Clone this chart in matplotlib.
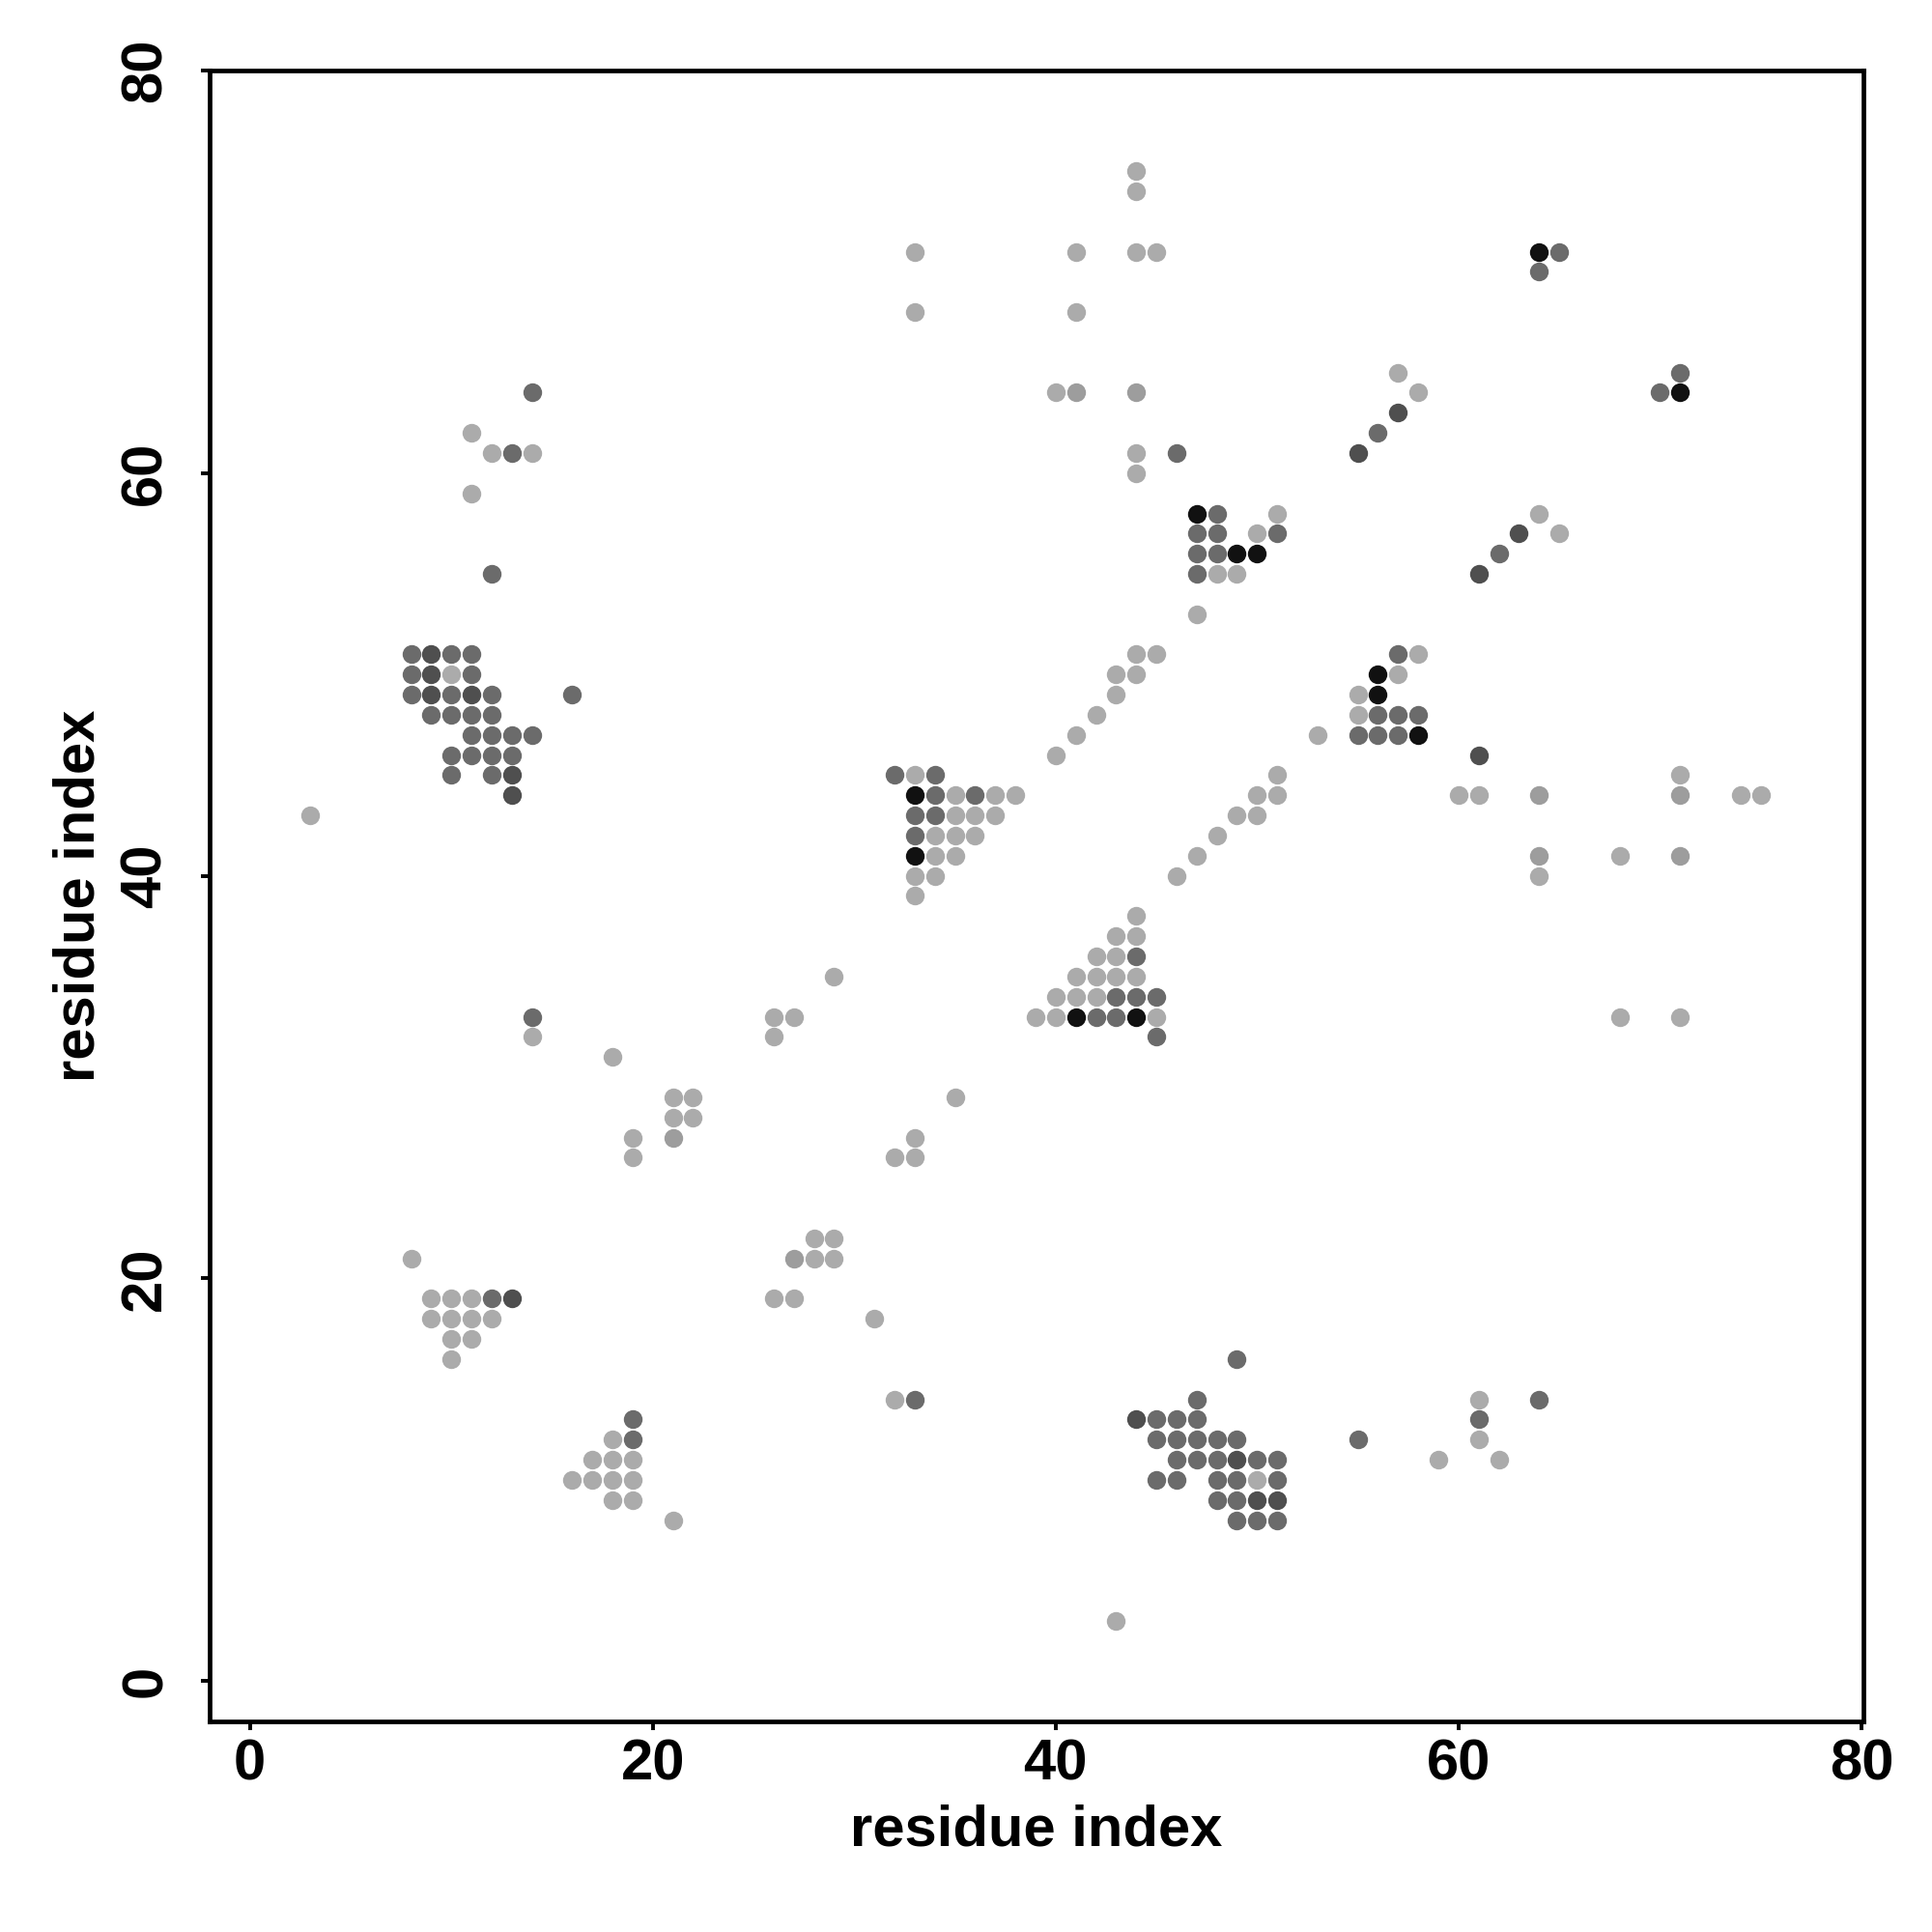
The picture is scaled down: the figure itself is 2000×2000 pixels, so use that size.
import matplotlib
matplotlib.use('Agg')
import matplotlib.pyplot as plt

# contact map points, grouped by grey level
light_x = [11, 12, 14, 11, 10, 3, 14, 18, 21, 22, 21, 22, 19, 19, 26, 27, 26, 29, 35,
           33, 32, 33, 28, 29, 28, 29, 26, 27, 31, 8, 9, 10, 11, 9, 10, 11, 12, 10, 11, 10,
           32, 18, 17, 18, 19, 16, 17, 18, 19, 18, 19, 21, 43,
           33, 35, 37, 38, 35, 36, 37, 34, 35, 36, 34, 35, 33, 34, 33,
           40, 41, 42, 43, 43, 44, 44, 45,
           33, 33, 41, 41, 44, 44, 44, 45, 40, 44, 44,
           51, 50, 48, 49, 47,
           46, 47, 48, 49, 50, 50, 51, 51, 53,
           44, 43, 44, 42, 43, 41, 42, 43, 44, 40, 41, 42, 39, 40, 45,
           58, 57, 55, 55,
           57, 58, 64, 65,
           60, 61, 71, 74, 75, 64, 68, 68, 71,
           50, 59, 61, 61, 62]
light_y = [62, 61, 61, 59, 50, 43, 32, 31, 29, 29, 28, 28, 27, 26, 33, 33, 32, 35, 29,
           27, 26, 26, 22, 22, 21, 21, 19, 19, 18, 21, 19, 19, 19, 18, 18, 18, 18, 17, 17, 16,
           14, 12, 11, 11, 11, 10, 10, 10, 10, 9, 9, 8, 3,
           45, 44, 44, 44, 43, 43, 43, 42, 42, 42, 41, 41, 40, 40, 39,
           46, 47, 48, 49, 50, 50, 51, 51,
           71, 68, 71, 68, 75, 74, 71, 71, 64, 61, 60,
           58, 57, 55, 55, 53,
           40, 41, 42, 43, 43, 44, 44, 45, 47,
           38, 37, 37, 36, 36, 35, 35, 35, 35, 34, 34, 34, 33, 33, 33,
           51, 50, 49, 48,
           65, 64, 58, 57,
           44, 44, 45, 44, 44, 40, 41, 33, 33,
           10, 11, 14, 12, 11]

light2_x = [41, 44, 64, 71, 64, 71, 21, 27]
light2_y = [64, 64, 44, 44, 41, 41, 27, 21]

mid_x = [14, 13, 12,
         8, 10, 11, 8, 11, 8, 10, 12, 16, 9, 10, 11, 12, 11, 12, 13, 14, 10, 11, 12, 13, 10, 12,
         14, 12, 33, 19, 19,
         32, 34, 34, 36, 33, 34, 33,
         46,
         48, 47, 48, 51, 47, 48, 47,
         44, 43, 44, 45, 42, 43, 45,
         57, 56, 57, 58, 55, 56, 57,
         56, 62, 65, 64, 70, 71,
         49, 47, 45, 46, 47, 45, 46, 47, 48, 49, 46, 47, 48, 50, 51,
         45, 46, 48, 49, 51, 48, 49, 49, 50, 51,
         55, 61, 64]
mid_y = [64, 61, 55,
         51, 51, 51, 50, 50, 49, 49, 49, 49, 48, 48, 48, 48, 47, 47, 47, 47, 46, 46, 46, 46, 45, 45,
         33, 19, 14, 13, 12,
         45, 45, 44, 44, 43, 43, 42,
         61,
         58, 57, 57, 57, 56, 56, 55,
         36, 34, 34, 34, 33, 33, 32,
         51, 48, 48, 48, 47, 47, 47,
         62, 56, 71, 70, 64, 65,
         16, 14, 13, 13, 13, 12, 12, 12, 12, 12, 11, 11, 11, 11, 11,
         10, 10, 10, 10, 10, 9, 9, 8, 8, 8,
         12, 13, 14]

dark_x = [9, 9, 9, 11, 13, 13, 13, 55, 57, 63, 61, 44, 49, 50, 51, 61]
dark_y = [51, 50, 49, 49, 45, 44, 19, 61, 63, 57, 55, 13, 11, 9, 9, 46]

black_x = [33, 33, 47, 49, 50, 41, 44, 56, 56, 58, 64, 71]
black_y = [44, 41, 58, 56, 56, 33, 33, 50, 49, 47, 71, 64]

plt.rcParams['font.family'] = ['Liberation Sans', 'DejaVu Sans']
plt.rcParams['font.weight'] = 'bold'

fig = plt.figure(figsize=(20, 20), dpi=100)
ax = fig.add_axes([0.1085, 0.109, 0.856, 0.8545])

groups = [(light_x, light_y, '#ababab'),
          (light2_x, light2_y, '#9d9d9d'),
          (mid_x, mid_y, '#6b6b6b'),
          (dark_x, dark_y, '#4f4f4f'),
          (black_x, black_y, '#111111')]
for xs, ys, col in groups:
    ax.scatter(xs, ys, s=195, c=col, linewidths=0, zorder=3)

ax.set_xlim(-2, 80.1)
ax.set_ylim(-2, 80)
ax.set_xticks([0, 20, 40, 60, 80])
ax.set_yticks([0, 20, 40, 60, 80])

for sp in ax.spines.values():
    sp.set_linewidth(3.4)

ax.tick_params(axis='both', direction='out', length=6.5, width=2.8, labelsize=43)
ax.tick_params(axis='x', pad=6)
ax.tick_params(axis='y', pad=21)
for lab in ax.get_yticklabels():
    lab.set_rotation(90)
    lab.set_va('center')

ax.set_xlabel('residue index', fontsize=43, fontweight='bold')
ax.set_ylabel('residue index', fontsize=43, fontweight='bold')
ax.xaxis.set_label_coords(0.5, -0.050)
ax.yaxis.set_label_coords(-0.063, 0.5)

fig.savefig('out.png', dpi=100)
